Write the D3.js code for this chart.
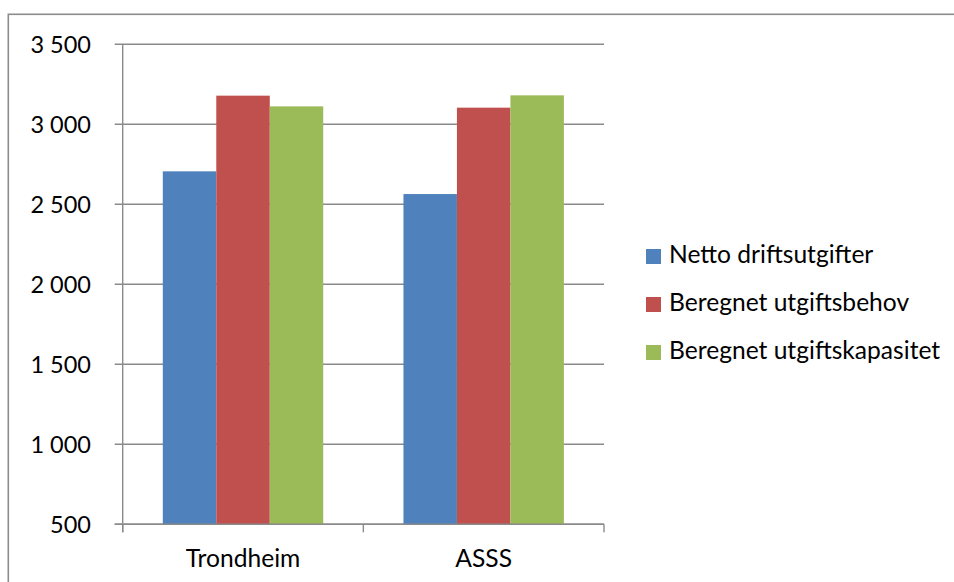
<!DOCTYPE html>
<html>
<head>
<meta charset="utf-8">
<script src="https://cdn.jsdelivr.net/npm/d3@7"></script>
<style>
  html, body { margin: 0; padding: 0; background: #fff; }
  svg { display: block; }
  text { font-family: Lato, "Open Sans", sans-serif; fill: #000; }
</style>
</head>
<body>
<svg id="chart" width="954" height="582"></svg>
<script>
// ---- data ----
const categories = ["Trondheim", "ASSS"];
const seriesNames = ["Netto driftsutgifter", "Beregnet utgiftsbehov", "Beregnet utgiftskapasitet"];
const nettoDriftsutgifter = [2706, 2564];
const beregnetUtgiftsbehov = [3179, 3104];
const beregnetUtgiftskapasitet = [3112, 3181];
const yTicks = [500, 1000, 1500, 2000, 2500, 3000, 3500];
const yTickLabels = ["500", "1 000", "1 500", "2 000", "2 500", "3 000", "3 500"];
const seriesColors = ["#4F81BD", "#C0504D", "#9BBB59"];

const seriesValues = [nettoDriftsutgifter, beregnetUtgiftsbehov, beregnetUtgiftskapasitet];

// ---- layout ----
const svg = d3.select("#chart");
const plot = { left: 122.7, right: 604, top: 44.3, bottom: 524.3 };
const fontSize = 24.6;
const yFontSize = 23.5;
const gridColor = "#8a8a8a";

// outer frame
svg.append("rect")
  .attr("x", 8.3).attr("y", 14.3)
  .attr("width", 960).attr("height", 600)
  .attr("fill", "none").attr("stroke", "#8c8c8c").attr("stroke-width", 1.6);

const y = d3.scaleLinear().domain([500, 3500]).range([plot.bottom, plot.top]);
const x0 = d3.scaleBand().domain(categories).range([plot.left, plot.right]).paddingInner(0).paddingOuter(0);
const x1 = d3.scaleBand().domain(seriesNames)
  .range([x0.bandwidth() / 6, x0.bandwidth() * 5 / 6]).padding(0);

// gridlines + y ticks
svg.append("g").selectAll("line").data(yTicks).join("line")
  .attr("x1", plot.left - 8).attr("x2", plot.right)
  .attr("y1", d => y(d)).attr("y2", d => y(d))
  .attr("stroke", gridColor).attr("stroke-width", 1.4);

// y labels
svg.append("g").selectAll("text").data(yTicks).join("text")
  .attr("x", 91).attr("y", d => y(d) + 8.4)
  .attr("text-anchor", "end")
  .style("font-size", yFontSize + "px")
  .text((d, i) => yTickLabels[i]);

// bars
const groups = svg.append("g").selectAll("g").data(categories).join("g")
  .attr("transform", d => `translate(${x0(d)},0)`);
groups.selectAll("rect")
  .data((c, ci) => seriesNames.map((s, si) => ({ s, v: seriesValues[si][ci], si })))
  .join("rect")
  .attr("x", d => x1(d.s))
  .attr("width", x1.bandwidth())
  .attr("y", d => y(d.v))
  .attr("height", d => y(500) - y(d.v))
  .attr("fill", d => seriesColors[d.si]);

// y axis line
svg.append("line")
  .attr("x1", plot.left).attr("x2", plot.left)
  .attr("y1", plot.top).attr("y2", plot.bottom + 8)
  .attr("stroke", gridColor).attr("stroke-width", 1.4);

// x axis line + ticks
svg.append("line")
  .attr("x1", plot.left - 8).attr("x2", plot.right)
  .attr("y1", plot.bottom).attr("y2", plot.bottom)
  .attr("stroke", gridColor).attr("stroke-width", 1.4);
const xTickPos = categories.map(c => x0(c)).concat([x0(categories[categories.length - 1]) + x0.bandwidth()]);
svg.append("g").selectAll("line").data(xTickPos).join("line")
  .attr("x1", d => d).attr("x2", d => d)
  .attr("y1", plot.bottom).attr("y2", plot.bottom + 8)
  .attr("stroke", gridColor).attr("stroke-width", 1.4);

// category labels
svg.append("g").selectAll("text").data(categories).join("text")
  .attr("x", d => x0(d) + x0.bandwidth() / 2)
  .attr("y", 567)
  .attr("text-anchor", "middle")
  .style("font-size", fontSize + "px")
  .text(d => d);

// legend
const legend = svg.append("g").selectAll("g").data(seriesNames).join("g")
  .attr("transform", (d, i) => `translate(646, ${263 + i * 48})`);
legend.append("rect")
  .attr("x", 0).attr("y", -14).attr("width", 15).attr("height", 15)
  .attr("fill", (d, i) => seriesColors[i]);
legend.append("text")
  .attr("x", 23).attr("y", 0)
  .style("font-size", fontSize + "px")
  .text(d => d);
</script>
</body>
</html>
